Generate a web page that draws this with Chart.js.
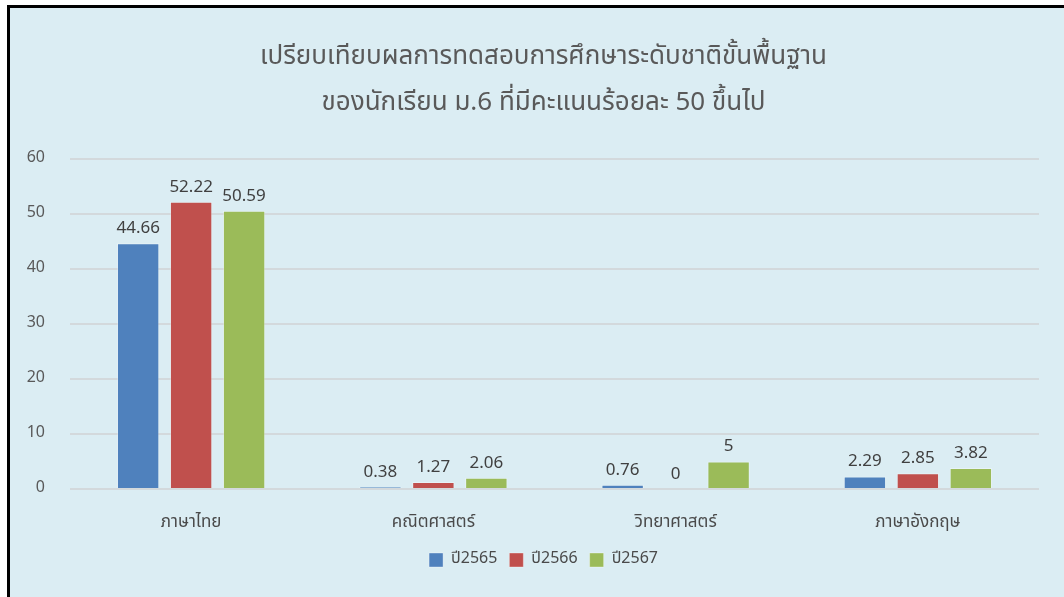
<!DOCTYPE html>
<html>
<head>
<meta charset="utf-8">
<script src="https://cdn.jsdelivr.net/npm/chart.js@4"></script>
<style>
    body { margin: 0; background: #ffffff; overflow: hidden; }
    #frame {
        position: absolute; left: 7px; top: 5px;
        width: 1060px; height: 600px;
        border-left: 3px solid #000; border-top: 3px solid #000;
        background: #dbedf3;
    }
    #wrap { position: absolute; left: 0; top: 0; width: 1054px; height: 589px; }
</style>
</head>
<body>
<div id="frame"><div id="wrap"><canvas id="scoreChart"></canvas></div></div>
<script>
// Chart data
const subjects = ['ภาษาไทย', 'คณิตศาสตร์', 'วิทยาศาสตร์', 'ภาษาอังกฤษ'];
const years = ['ปี2565', 'ปี2566', 'ปี2567'];
const scores2565 = [44.66, 0.38, 0.76, 2.29];
const scores2566 = [52.22, 1.27, 0, 2.85];
const scores2567 = [50.59, 2.06, 5, 3.82];
const yTicks = [0, 10, 20, 30, 40, 50, 60];
const barColors = ['#4f81bd', '#c0504d', '#9bbb59'];

const fontFamily = '"Noto Sans Thai", "Noto Sans", "DejaVu Sans", sans-serif';
const textColor = '#595959';

// Draw the value above each bar
const valueLabels = {
    id: 'valueLabels',
    afterDatasetsDraw(chart) {
        const ctx = chart.ctx;
        ctx.save();
        ctx.font = '17px ' + fontFamily;
        ctx.fillStyle = '#404040';
        ctx.textAlign = 'center';
        ctx.textBaseline = 'bottom';
        chart.data.datasets.forEach((ds, i) => {
            chart.getDatasetMeta(i).data.forEach((bar, j) => {
                ctx.fillText(String(ds.data[j]), bar.x, bar.y - 5);
            });
        });
        ctx.restore();
    }
};

// Title and legend sit a little right of the canvas centre in the original
const shiftBlocks = {
    id: 'shiftBlocks',
    afterLayout(chart) {
        if (chart.titleBlock) chart.titleBlock.left += 38;
        if (chart.legend) chart.legend.left += 38;
    }
};

const ctx = document.getElementById('scoreChart').getContext('2d');
new Chart(ctx, {
    type: 'bar',
    data: {
        labels: subjects,
        datasets: [scores2565, scores2566, scores2567].map((d, i) => ({
            label: years[i],
            data: d,
            backgroundColor: barColors[i],
            borderColor: 'rgba(255,255,255,0.35)',
            borderWidth: 1,
            categoryPercentage: 0.656,
            barPercentage: 0.8
        }))
    },
    options: {
        responsive: true,
        maintainAspectRatio: false,
        animation: false,
        layout: { padding: { left: 0, right: 25, top: 10, bottom: 19 } },
        scales: {
            x: {
                afterFit: axis => { axis.height = 51; },
                grid: { display: false },
                border: { display: false },
                ticks: { color: '#4a4a4a', font: { family: fontFamily, size: 17 }, padding: 16 }
            },
            y: {
                min: 0,
                max: 60,
                afterBuildTicks: axis => { axis.ticks = yTicks.map(v => ({ value: v })); },
                afterFit: axis => { axis.width = 60; },
                grid: { color: '#d3d9dc', lineWidth: 2, drawTicks: false },
                border: { display: false },
                ticks: { color: textColor, font: { family: fontFamily, size: 16 }, padding: 25 }
            }
        },
        plugins: {
            title: {
                display: true,
                text: ['เปรียบเทียบผลการทดสอบการศึกษาระดับชาติขั้นพื้นฐาน', 'ของนักเรียน ม.6 ที่มีคะแนนร้อยละ 50 ขึ้นไป'],
                color: textColor,
                font: { family: fontFamily, size: 26, weight: 'normal', lineHeight: 1.75 },
                padding: { top: 18, bottom: 32 }
            },
            legend: {
                position: 'bottom',
                labels: {
                    color: '#4a4a4a',
                    font: { family: fontFamily, size: 16 },
                    boxWidth: 14,
                    boxHeight: 14,
                    padding: 12
                }
            },
            tooltip: { enabled: false }
        }
    },
    plugins: [valueLabels, shiftBlocks]
});
</script>
</body>
</html>
